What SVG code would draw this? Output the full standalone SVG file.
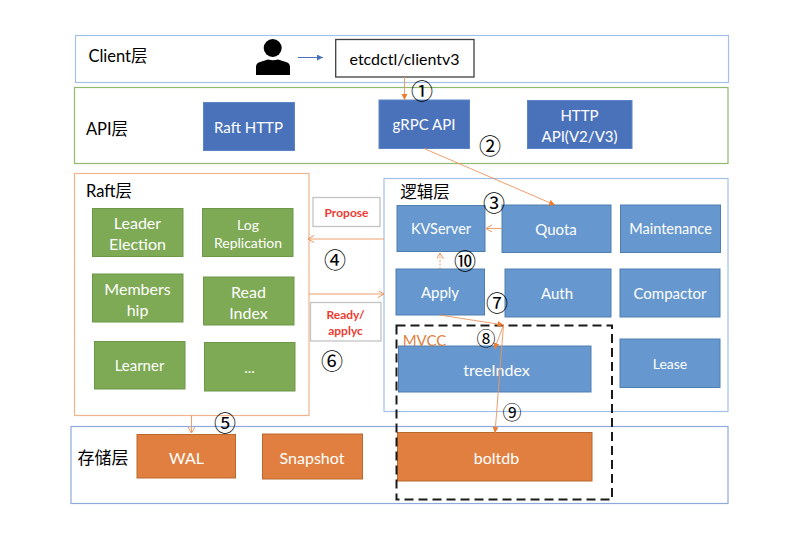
<svg xmlns="http://www.w3.org/2000/svg" width="788" height="534" viewBox="0 0 788 534">
<style>
text{font-family:Lato,"Noto Sans CJK SC",sans-serif;text-anchor:middle;dominant-baseline:central}
.t{fill:#fff;font-size:15px}
.tl{fill:#fff;font-size:16px}
.l{fill:#000;font-size:16.500px}
.n{fill:#000;font-size:22px;font-family:"Noto Sans CJK SC","DejaVu Sans",sans-serif}
.ns{fill:#000;font-size:19px;font-family:"Noto Sans CJK SC","DejaVu Sans",sans-serif}
.b{fill:#4a72bb;stroke:#5b86c6;stroke-width:1}
.g{fill:#7ea955;stroke:#6d9848;stroke-width:1}
.s{fill:#6698cf;stroke:#4f7fb0;stroke-width:1}
.o{fill:#e07f3f;stroke:#b9682f;stroke-width:1}
.r{fill:#ed3b32;font-size:12px;font-weight:700}
.c{fill:none;stroke:#ed945a;stroke-width:.9}
.p{fill:#fff;stroke:#c4c4c4;stroke-width:1.3}
</style>
<defs>
<marker id="fa" markerUnits="userSpaceOnUse" markerWidth="7" markerHeight="7" refX="6" refY="3" orient="auto"><path d="M0 0L6 3L0 6z" fill="#ed7d31"/></marker>
<marker id="ba" markerUnits="userSpaceOnUse" markerWidth="7" markerHeight="7" refX="6" refY="3" orient="auto"><path d="M0 0L6 3L0 6z" fill="#4a72bb"/></marker>
<marker id="oa" markerUnits="userSpaceOnUse" markerWidth="8" markerHeight="8" refX="6" refY="3.500" orient="auto"><path d="M0 0L6 3.500L0 7" fill="none" stroke="#ed945a"/></marker>
</defs>
<g id="layer-client"><rect x="75.500" y="35.500" width="653" height="47" fill="#fff" stroke="#a3c1e6" stroke-width="1.200"/><text class="l" x="118" y="56">Client层</text></g>
<g id="layer-api"><rect x="74.500" y="87.500" width="653.500" height="76" fill="#fff" stroke="#90bb6e" stroke-width="1.200"/><text class="l" x="107" y="129">API层</text></g>
<g id="layer-raft"><rect x="74.500" y="173.500" width="234.500" height="242" fill="#fff" stroke="#f2b48d" stroke-width="1.200"/><text class="l" x="109" y="191">Raft层</text></g>
<g id="layer-logic"><rect x="384" y="178.500" width="344" height="233" fill="#fff" stroke="#a3c1e6" stroke-width="1.200"/><text class="l" x="425" y="192">逻辑层</text></g>
<g id="layer-storage"><rect x="71" y="426.500" width="657" height="77" fill="none" stroke="#8eaadb" stroke-width="1.200"/><text class="l" x="103" y="457" style="font-size:17px">存储层</text></g>
<g id="user"><circle cx="272.700" cy="48" r="9"/><path d="M256 75V67Q256 63 260 62L268 59.500Q273 61 278 59.500L286 62Q290 63 290 67V75Z"/></g>
<g id="etcdctl"><rect x="335.700" y="39.500" width="138.300" height="37.500" fill="#fff" stroke="#404040" stroke-width="1.300"/><text x="404.500" y="58" style="font-size:16px;fill:#000">etcdctl/clientv3</text></g>
<g id="raft-http"><rect class="b" x="203.500" y="102.500" width="91" height="48"/><text class="t" x="248.500" y="126.500">Raft HTTP</text></g>
<g id="grpc-api"><rect class="b" x="379" y="100" width="90.500" height="48.500"/><text class="t" x="424" y="124">gRPC API</text></g>
<g id="http-api"><rect class="b" x="527.500" y="100.500" width="104.500" height="48"/><text class="t" x="579.500" y="114.500">HTTP</text><text class="t" x="579.500" y="136">API(V2/V3)</text></g>
<g id="propose"><rect class="p" x="313" y="197.500" width="67" height="29"/><text class="r" x="346.500" y="212">Propose</text></g>
<g id="ready"><rect class="p" x="310.500" y="302.500" width="70.500" height="38.500"/><text class="r" x="345.500" y="314.500">Ready/</text><text class="r" x="345.500" y="330.500">applyc</text></g>
<g id="leader"><rect class="g" x="92.500" y="208.500" width="90.500" height="48"/><text class="tl" x="137.500" y="222">Leader</text><text class="tl" x="137.500" y="243">Election</text></g>
<g id="log"><rect class="g" x="202.500" y="208.500" width="90.500" height="48"/><text class="t" x="248" y="224" style="font-size:14px">Log</text><text class="t" x="248" y="242" style="font-size:14px">Replication</text></g>
<g id="membership"><rect class="g" x="92.500" y="274" width="90.500" height="48"/><text class="tl" x="137.500" y="288">Members</text><text class="tl" x="137.500" y="309">hip</text></g>
<g id="read-index"><rect class="g" x="203.500" y="277" width="90.500" height="48"/><text class="tl" x="248.500" y="291">Read</text><text class="tl" x="248.500" y="312">Index</text></g>
<g id="learner"><rect class="g" x="94.500" y="341.500" width="90.500" height="47.500"/><text class="t" x="139.500" y="365">Learner</text></g>
<g id="more"><rect class="g" x="204.500" y="342.500" width="90.500" height="48.500"/><text class="t" x="249.500" y="367">...</text></g>
<g id="wal"><rect class="o" x="137" y="434.500" width="98.500" height="43.500"/><text class="tl" x="186.500" y="457">WAL</text></g>
<g id="snapshot"><rect class="o" x="262.500" y="434" width="100" height="45"/><text class="tl" x="312" y="457">Snapshot</text></g>
<g id="boltdb"><rect class="o" x="397.500" y="432.500" width="194.500" height="48.500"/><text class="tl" x="496.500" y="457">boltdb</text></g>
<g id="treeindex"><rect class="s" x="398.500" y="346" width="192.500" height="46"/><text class="tl" x="496.500" y="369.500">treeIndex</text></g>
<g id="lease"><rect class="s" x="620" y="339" width="100" height="48.500"/><text class="t" x="670" y="363" style="font-size:14px">Lease</text></g>
<g id="kvserver"><rect class="s" x="397" y="205.500" width="88" height="46"/><text class="t" x="441" y="228.500" style="font-size:14.500px">KVServer</text></g>
<g id="quota"><rect class="s" x="502" y="205" width="109" height="47.500"/><text class="t" x="556" y="228.500">Quota</text></g>
<g id="maintenance"><rect class="s" x="620.500" y="205" width="100" height="47.500"/><text class="t" x="670.500" y="228.500" style="font-size:14.500px">Maintenance</text></g>
<g id="apply"><rect class="s" x="396" y="269" width="88.500" height="46"/><text class="t" x="440" y="292">Apply</text></g>
<g id="auth"><rect class="s" x="505" y="269" width="106" height="48"/><text class="t" x="557" y="293">Auth</text></g>
<g id="compactor"><rect class="s" x="620" y="269" width="100" height="48"/><text class="t" x="670" y="293">Compactor</text></g>
<g id="mvcc"><rect x="396.500" y="325.500" width="215.500" height="174" fill="none" stroke="#1a1a1a" stroke-width="2" stroke-dasharray="9 5"/><text x="424.500" y="339.500" style="font-size:15px;fill:#e07f3f">MVCC</text></g>
<g id="connectors">
<line x1="298" y1="57.500" x2="323" y2="57.500" stroke="#4a72bb" marker-end="url(#ba)"/>
<line class="c" x1="404.500" y1="77" x2="404.500" y2="100" marker-end="url(#fa)"/>
<line class="c" x1="424" y1="148.500" x2="555" y2="205" marker-end="url(#fa)"/>
<line class="c" x1="502" y1="228.500" x2="486" y2="228.500" marker-end="url(#oa)"/>
<line class="c" x1="384" y1="239" x2="308" y2="239" marker-end="url(#oa)"/>
<line class="c" x1="309" y1="294" x2="384" y2="294" marker-end="url(#oa)"/>
<line class="c" x1="191.500" y1="415.500" x2="191.500" y2="433" marker-end="url(#oa)"/>
<line class="c" x1="440" y1="269" x2="440" y2="253" stroke-dasharray="2 1.500" marker-end="url(#oa)"/>
<line class="c" x1="440" y1="315" x2="503.500" y2="325" marker-end="url(#fa)"/>
<line class="c" x1="503.500" y1="325" x2="494.500" y2="349" marker-end="url(#fa)"/>
<line class="c" x1="503.500" y1="325" x2="495" y2="433" marker-end="url(#fa)"/>
</g>
<g id="steps">
<text class="n" x="422" y="89">①</text><text class="n" x="490" y="144">②</text><text class="n" x="494" y="201">③</text><text class="n" x="335" y="258">④</text><text class="n" x="225" y="421">⑤</text><text class="n" x="332" y="359">⑥</text><text class="n" x="497" y="301">⑦</text><text class="ns" x="486" y="337.500">⑧</text><text class="ns" x="512" y="411">⑨</text><text class="n" x="465" y="259">⑩</text>
</g>
</svg>
